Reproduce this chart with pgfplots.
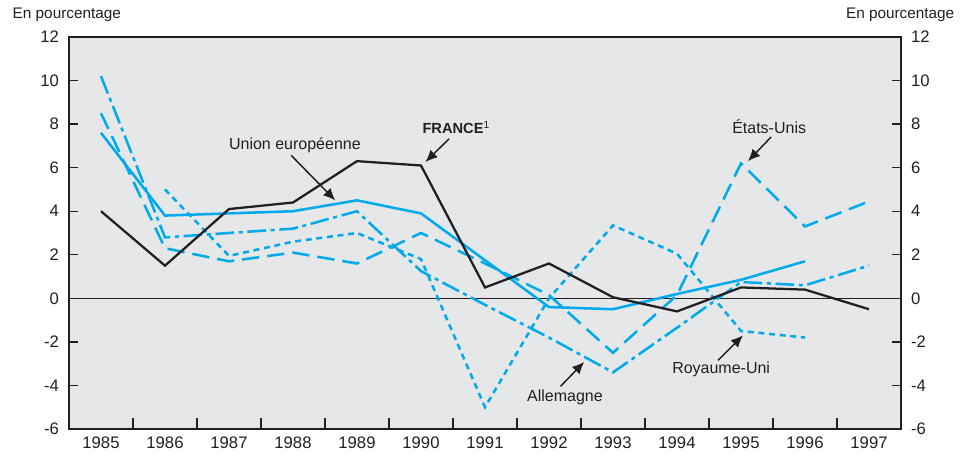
\documentclass[border=0pt]{standalone}
\usepackage{pgfplots}
\pgfplotsset{compat=1.18}
\usepackage{pgfplotstable}
\usepackage{fontspec}
\setmainfont{Liberation Sans}
\usetikzlibrary{arrows.meta}

\definecolor{ocdeblue}{RGB}{0,170,235}
\definecolor{panel}{RGB}{230,231,233}
\definecolor{ink}{RGB}{35,31,32}

% croissance annuelle, en pourcentage
\pgfplotstableread{
year france ue   us    uk    de
1985 4.0   7.6   8.5   nan   10.2
1986 1.5   3.8   2.3   5.0   2.8
1987 4.1   3.9   1.7   1.95  3.0
1988 4.4   4.0   2.1   2.6   3.2
1989 6.3   4.5   1.6   3.0   4.0
1990 6.1   3.9   3.0   1.8   1.25
1991 0.5   1.75  1.6   -5.0  -0.3
1992 1.6   -0.4  0.15  0.0   -1.8
1993 0.05  -0.5  -2.5  3.35  -3.4
1994 -0.6  0.2   0.15  2.05  -1.35
1995 0.5   0.85  6.2   -1.5  0.75
1996 0.4   1.7   3.3   -1.8  0.6
1997 -0.5  nan   4.45  nan   1.5
}\data

\pgfplotsset{
  base/.style={
    at={(0,0)}, anchor=south west, scale only axis,
    width=624pt, height=294pt,
    xmin=1984.5, xmax=1997.5, ymin=-6, ymax=12,
    /pgf/number format/assume math mode=true,
    /pgf/number format/1000 sep={},
    tick label style={font=\fontsize{12.5}{14}\selectfont, text=ink},
    axis line style={ink, line width=1pt},
  },
  serie/.style={ocdeblue, line width=1.9pt, line join=miter},
}

\begin{document}
\begin{tikzpicture}
  % frame, ticks and year labels
  \begin{axis}[base,
      axis background/.style={fill=panel},
      xtick={1985,1986,...,1997},
      ytick={-6,-4,...,12},
      minor xtick={1985.5,1986.5,...,1996.5},
      xtick pos=left, ytick pos=both, yticklabel pos=left,
      tick align=inside,
      major tick length=7pt, minor tick length=8pt,
      major x tick style={draw=none},
      minor x tick style={draw=ink, line width=1pt},
      major y tick style={draw=ink, line width=1pt},
      xticklabel style={yshift=-2pt},
      yticklabel style={xshift=-4pt},
      clip=false]
    \addplot[ink, line width=0.6pt] coordinates {(1984.5,0) (1997.5,0)};
    \addplot[serie] table[x=year, y=ue] {\data};
    \addplot[serie, dash pattern=on 13pt off 6pt] table[x=year, y=us] {\data};
    \addplot[serie, dash pattern=on 4.5pt off 3.5pt] table[x=year, y=uk] {\data};
    \addplot[serie, dash pattern=on 14pt off 3.5pt on 3pt off 3.5pt] table[x=year, y=de] {\data};
    \addplot[ink, line width=1.7pt] table[x=year, y=france] {\data};

    \begin{scope}[font=\fontsize{12}{14}\selectfont, text=ink]
      \node at (axis cs:1988.03,7.02) {Union européenne};
      \node[anchor=west] at (axis cs:1989.95,7.83) {\fontsize{11}{13}\selectfont\bfseries FRANCE\textsuperscript{\mdseries 1}};
      \node at (axis cs:1995.44,7.87) {États-Unis};
      \node at (axis cs:1994.69,-3.27) {Royaume-Uni};
      \node at (axis cs:1992.25,-4.53) {Allemagne};
    \end{scope}
    \begin{scope}[ink, line width=1.1pt, -{Latex[length=9pt,width=8pt]}]
      \draw (axis cs:1987.97,6.57) -- (axis cs:1988.66,4.5);
      \draw (axis cs:1990.44,7.33) -- (axis cs:1990.07,6.26);
      \draw (axis cs:1995.47,7.41) -- (axis cs:1995.11,6.30);
      \draw (axis cs:1994.64,-2.85) -- (axis cs:1995.03,-1.70);
      \draw (axis cs:1992.18,-4.04) -- (axis cs:1992.55,-2.92);
    \end{scope}

    \node[anchor=west, font=\fontsize{11.5}{13}\selectfont, text=ink]
      at ([xshift=-45.75pt, yshift=16.5pt]rel axis cs:0,1) {En pourcentage};
    \node[anchor=east, font=\fontsize{11.5}{13}\selectfont, text=ink]
      at ([xshift=43.5pt, yshift=16.5pt]rel axis cs:1,1) {En pourcentage};
  \end{axis}

  % labels of the right-hand scale
  \begin{axis}[base, hide x axis, axis y line*=right,
      ytick={-6,-4,...,12}, major tick length=0pt,
      yticklabel style={xshift=4pt}]
  \end{axis}

  \pgfresetboundingbox
  \path[use as bounding box] (-51.75pt,-21.75pt) rectangle (676.5pt,321.75pt);
\end{tikzpicture}
\end{document}
